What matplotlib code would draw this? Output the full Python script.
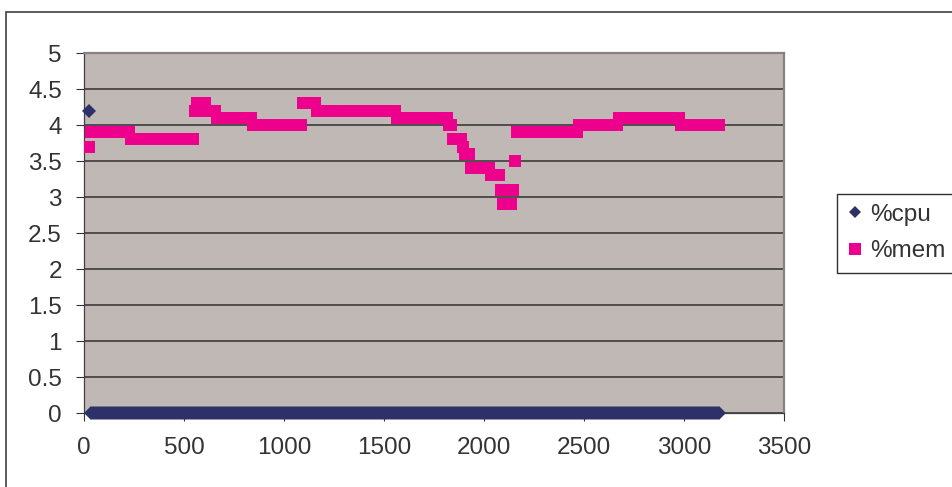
import matplotlib
matplotlib.use("Agg")
import matplotlib.pyplot as plt
import numpy as np
from matplotlib.patches import Rectangle

plt.rcParams['font.family'] = ['Liberation Sans', 'DejaVu Sans']

# one sample every 10 time units, stored as runs of equal value
t0 = 25
dt = 10
mem_levels = [3.7, 3.9, 3.8, 4.2, 4.3, 4.2, 4.1, 4.0, 4.3, 4.2, 4.1, 4.0, 3.8,
              3.7, 3.6, 3.4, 3.3, 3.1, 2.9, 3.1, 3.5, 3.9, 4.0, 4.1, 4.0]
mem_counts = [1, 20, 32, 1, 5, 5, 18, 25, 7, 40, 26, 2, 5,
              1, 3, 10, 5, 1, 5, 1, 1, 31, 20, 31, 20]
cpu_levels = [4.2, 0.0]
cpu_counts = [1, 315]

mem = np.repeat(mem_levels, mem_counts)
cpu = np.repeat(cpu_levels, cpu_counts)
t = t0 + dt * np.arange(len(mem))

txt = '#333333'
fig = plt.figure(figsize=(9.52, 4.87), dpi=100)
ax = fig.add_axes([84 / 952, 1 - 413 / 487, 700 / 952, 360 / 487])
ax.set_facecolor('#c0b8b5')

ax.plot(t, cpu, 'D', color='#2e3168', markersize=7.0, markeredgewidth=0,
        label='%cpu', zorder=3, clip_on=False)
ax.plot(t, mem, 's', color='#ec008c', markersize=9.0, markeredgewidth=0,
        label='%mem', zorder=4)

ax.set_xlim(0, 3500)
ax.set_ylim(0, 5)
ax.set_xticks(np.arange(0, 3501, 500))
ax.set_yticks(np.arange(0, 5.01, 0.5))
ax.set_yticklabels(['0', '0.5', '1', '1.5', '2', '2.5', '3', '3.5', '4', '4.5', '5'])
ax.grid(axis='y', color='#303030', linewidth=1.1)
ax.set_axisbelow(True)
ax.tick_params(axis='both', direction='out', length=6, width=0.8,
               color=txt, labelcolor=txt, labelsize=17.5)
ax.tick_params(axis='y', pad=10)
ax.tick_params(axis='x', pad=11)

for side in ('top', 'right'):
    ax.spines[side].set_color('#8a8080')
    ax.spines[side].set_linewidth(1.6)
for side in ('left', 'bottom'):
    ax.spines[side].set_color('#404040')
    ax.spines[side].set_linewidth(0.9)

# outer chart border and legend box
fig.patches.append(Rectangle((6 / 952, -0.1), 1.1, 1 - 12 / 487 + 0.1,
                             transform=fig.transFigure, fill=False,
                             edgecolor='#404040', linewidth=1.2))
fig.patches.append(Rectangle((837 / 952, 1 - 273 / 487), 0.2, 79 / 487,
                             transform=fig.transFigure, fill=False,
                             edgecolor='#303030', linewidth=1.0))
leg = ax.legend(loc='center left', bbox_to_anchor=(848 / 952, 1 - 233 / 487),
                bbox_transform=fig.transFigure, frameon=False, fontsize=17.5,
                handlelength=0.6, handletextpad=0.3, labelspacing=0.6,
                borderpad=0, borderaxespad=0, labelcolor=txt)
leg.legend_handles[0].set_markersize(6.5)
leg.legend_handles[1].set_markersize(8.0)

fig.savefig('out.png', dpi=100)
